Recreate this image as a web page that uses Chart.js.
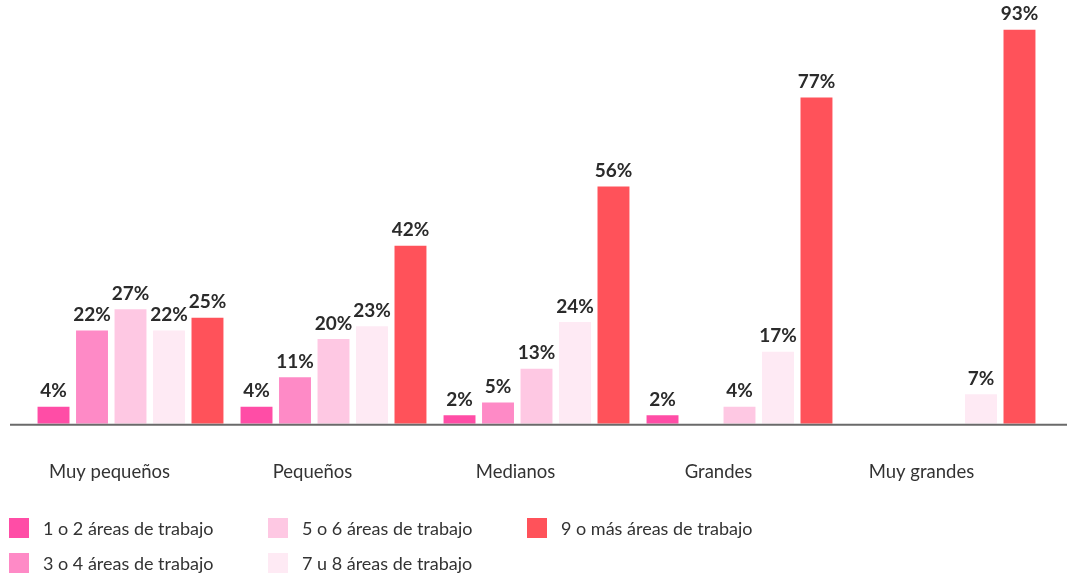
<!DOCTYPE html>
<html lang="es">
<head>
<meta charset="utf-8">
<title>Áreas de trabajo según tamaño de empresa</title>
<script src="https://cdn.jsdelivr.net/npm/chart.js@4.4.1/dist/chart.umd.min.js"></script>
<style>
    html, body { margin: 0; padding: 0; background: #fff; }
    .wrap { position: relative; width: 1067px; height: 577px; overflow: hidden; }
    .chart-box { position: absolute; left: 0; top: 0; width: 1067px; height: 537px; }
    .legend {
        position: absolute; left: 9px; top: 514px;
        display: grid;
        grid-auto-flow: column;
        grid-template-rows: repeat(2, 35px);
        grid-template-columns: 259px 259px auto;
        font-family: Lato, "Noto Sans", sans-serif;
        font-size: 18px;
        color: #333;
    }
    .legend-item { display: flex; align-items: center; height: 28px; }
    .legend-swatch { width: 20px; height: 20px; margin-right: 14px; flex: none; }
</style>
</head>
<body>
<div class="wrap">
    <div class="chart-box"><canvas id="areasChart"></canvas></div>
    <div class="legend" id="areasLegend"></div>
</div>
<script>
// ---------- data ----------
const categories = ['Muy pequeños', 'Pequeños', 'Medianos', 'Grandes', 'Muy grandes'];
const seriesNames = [
    '1 o 2 áreas de trabajo',
    '3 o 4 áreas de trabajo',
    '5 o 6 áreas de trabajo',
    '7 u 8 áreas de trabajo',
    '9 o más áreas de trabajo'
];
const areas1a2 = [4, 4, 2, 2, null];
const areas3a4 = [22, 11, 5, null, null];
const areas5a6 = [27, 20, 13, 4, null];
const areas7a8 = [22, 23, 24, 17, 7];
const areas9mas = [25, 42, 56, 77, 93];

const COLORS = ['#ff4da6', '#fe8ac6', '#fec8e3', '#feeaf4', '#ff525a'];
const TEXT = '#2b2b2b';
const FONT = 'Lato, "Noto Sans", sans-serif';

const seriesValues = [areas1a2, areas3a4, areas5a6, areas7a8, areas9mas];

// value labels above each bar
const barLabels = {
    id: 'barLabels',
    afterDatasetsDraw(chart) {
        const ctx = chart.ctx;
        ctx.save();
        ctx.font = 'bold 19px ' + FONT;
        ctx.fillStyle = TEXT;
        ctx.textAlign = 'center';
        ctx.textBaseline = 'bottom';
        chart.data.datasets.forEach((ds, i) => {
            const meta = chart.getDatasetMeta(i);
            meta.data.forEach((bar, j) => {
                const v = ds.data[j];
                if (v === null || v === undefined) return;
                ctx.fillText(v + '%', bar.x, bar.y - 6);
            });
        });
        ctx.restore();
    }
};

// baseline across the whole width
const baseLine = {
    id: 'baseLine',
    afterDatasetsDraw(chart) {
        const ctx = chart.ctx;
        const y = chart.chartArea.bottom;
        ctx.save();
        ctx.strokeStyle = '#6a6a6a';
        ctx.lineWidth = 2;
        ctx.beginPath();
        ctx.moveTo(10, y + 1);
        ctx.lineTo(chart.width, y + 1);
        ctx.stroke();
        ctx.restore();
    }
};

const areasChart = new Chart(document.getElementById('areasChart'), {
    type: 'bar',
    data: {
        labels: categories,
        datasets: seriesNames.map((name, i) => ({
            label: name,
            data: seriesValues[i],
            backgroundColor: COLORS[i],
            borderWidth: 0,
            barPercentage: 0.83,
            categoryPercentage: 0.948,
        }))
    },
    options: {
        responsive: true,
        maintainAspectRatio: false,
        animation: false,
        layout: { padding: { left: 29, right: 23, top: 0, bottom: 17 } },
        plugins: {
            legend: { display: false },
            tooltip: { enabled: false }
        },
        scales: {
            x: {
                grid: { display: false, drawTicks: false },
                border: { display: false },
                ticks: {
                    color: '#333',
                    font: { family: FONT, size: 18.5 },
                    padding: 37,
                    labelOffset: -21,
                    maxRotation: 0
                }
            },
            y: {
                display: false,
                min: 0,
                max: 100
            }
        }
    },
    plugins: [barLabels, baseLine]
});

// ---------- legend (column-major, 3 columns) ----------
const legendEl = document.getElementById('areasLegend');
seriesNames.forEach((name, i) => {
    const item = document.createElement('div');
    item.className = 'legend-item';
    item.innerHTML = `<span class="legend-swatch" style="background:${COLORS[i]}"></span><span>${name}</span>`;
    legendEl.appendChild(item);
});
</script>
</body>
</html>
